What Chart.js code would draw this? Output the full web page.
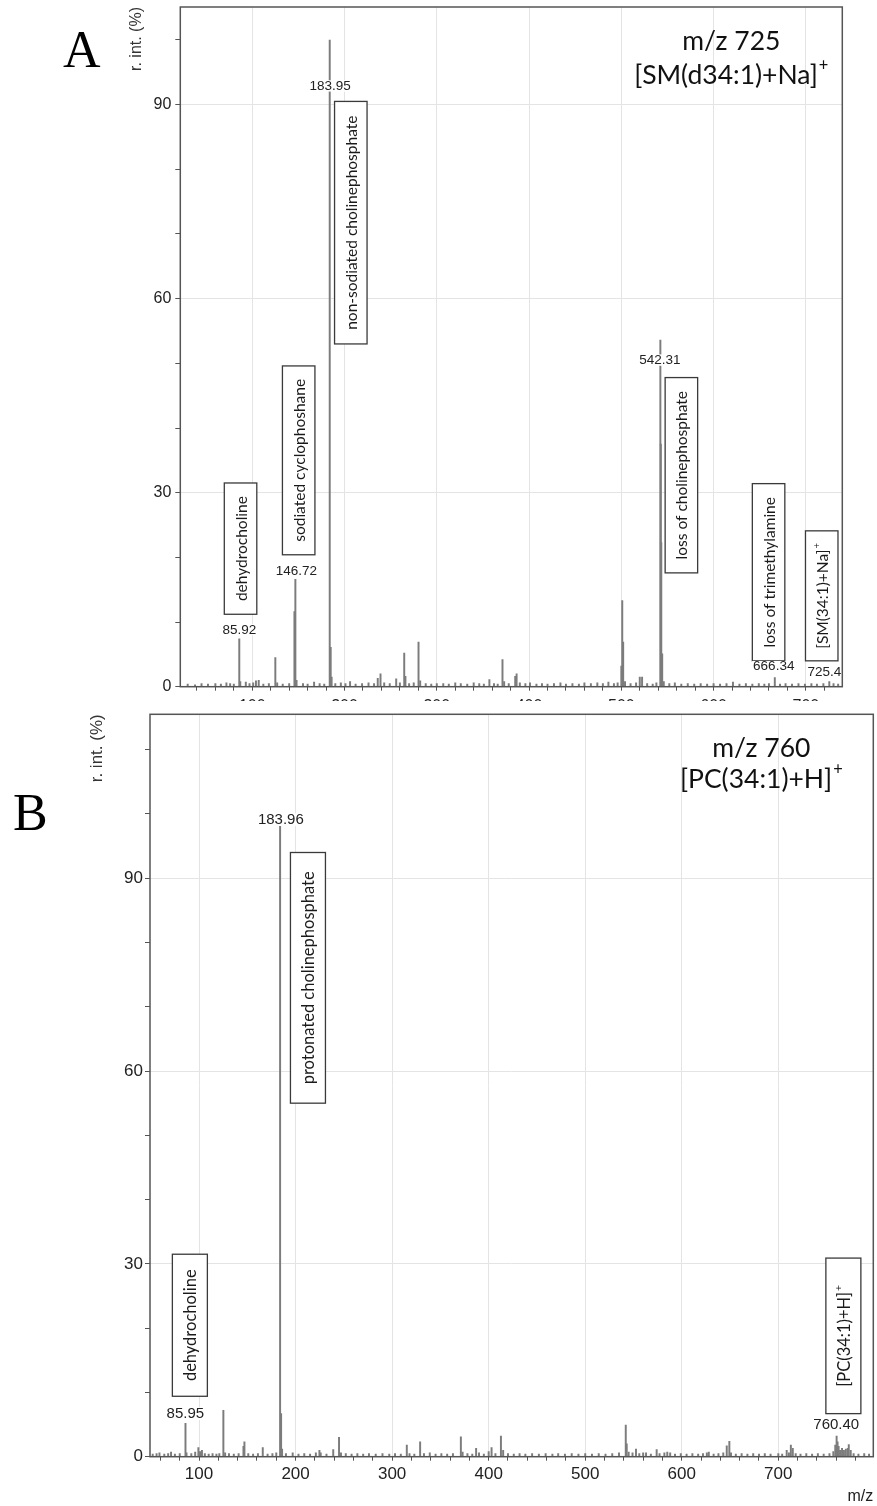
<!DOCTYPE html>
<html>
<head>
<meta charset="utf-8">
<script src="https://cdn.jsdelivr.net/npm/chart.js@4"></script>
<style>
  body { margin: 0; background: #fff; width: 877px; height: 1506px; position: relative; overflow: hidden; }
  #wrapA { position: absolute; left: 0; top: 0; width: 877px; height: 701px; overflow: hidden; }
  #chartB { position: absolute; left: 0; top: 701px; }
</style>
</head>
<body>
<div id="wrapA"><canvas id="chartA" width="877" height="730"></canvas></div>
<canvas id="chartB" width="877" height="805"></canvas>
<script>
// ---- shared tick labels ----
const xMajor = [100, 200, 300, 400, 500, 600, 700];
const yMajor = [0, 30, 60, 90];

// ---- panel A: m/z 725 [SM(d34:1)+Na]+ ----
const mzA = [30, 38, 45, 52, 60, 66, 72, 76, 80, 85.92, 87, 93, 97, 101, 104, 107, 112, 118, 125, 127,
  133, 140, 145.7, 146.72, 148, 155, 160, 167, 173, 178, 183.95, 185, 186, 190, 196, 201, 206, 212, 219, 226,
  232, 236, 239, 243, 249, 256, 260, 264.7, 266, 270, 275, 280.2, 282, 288, 294, 300, 307, 313, 320, 326,
  333, 340, 346, 351, 357, 362, 366, 371.2, 373, 378, 385, 386.5, 390, 396, 401, 408, 414, 420, 427, 434,
  440, 447, 454, 460, 467, 474, 480, 486, 492, 496, 500, 501, 502, 504, 510, 516, 520, 522.5, 528, 534,
  538, 542.31, 542.8, 543.3, 544.3, 546, 552, 558, 565, 572, 579, 586, 593, 600, 607, 614, 621, 628, 635, 642,
  649, 655, 660, 666.34, 672, 678, 685, 692, 699, 706, 712, 719, 725.4, 730, 735];
const intA = [0.4, 0.3, 0.5, 0.4, 0.5, 0.4, 0.6, 0.5, 0.4, 7.4, 0.8, 0.7, 0.5, 0.6, 0.9, 1.0, 0.4, 0.5, 4.5, 0.6,
  0.4, 0.5, 11.6, 16.6, 1.0, 0.5, 0.4, 0.7, 0.5, 0.4, 100, 6.1, 1.5, 0.5, 0.6, 0.5, 0.8, 0.4, 0.5, 0.6,
  0.5, 1.3, 2.0, 0.6, 0.5, 1.2, 0.6, 5.2, 1.6, 0.5, 0.6, 6.9, 0.9, 0.5, 0.4, 0.5, 0.5, 0.4, 0.6, 0.5,
  0.4, 0.6, 0.5, 0.4, 1.1, 0.5, 0.4, 4.2, 0.8, 0.5, 1.6, 2.0, 0.6, 0.5, 0.6, 0.4, 0.5, 0.4, 0.5, 0.6,
  0.4, 0.5, 0.4, 0.6, 0.5, 0.6, 0.5, 0.7, 0.5, 0.6, 3.2, 13.3, 6.9, 0.8, 0.5, 0.6, 1.5, 1.5, 0.5, 0.4,
  0.6, 53.6, 37.5, 22.3, 5.1, 0.8, 0.5, 0.6, 0.4, 0.5, 0.4, 0.5, 0.4, 0.5, 0.4, 0.5, 0.7, 0.4, 0.5, 0.4,
  0.5, 0.4, 0.5, 1.4, 0.4, 0.5, 0.4, 0.5, 0.4, 0.5, 0.4, 0.5, 0.8, 0.5, 0.4];
const peakTextA = ['85.92', '146.72', '183.95', '542.31', '666.34', '725.4'];
const peakMzA = [86.0, 147.7, 184.5, 541.8, 665.2, 720.0];
const peakAtA = [8.8, 17.8, 92.9, 50.5, 3.1, 2.3];
const boxTextA = ['dehydrocholine', 'sodiated cyclophoshane', 'non-sodiated cholinephosphate',
  'loss of cholinephosphate', 'loss of trimethylamine', '[SM(34:1)+Na]'];
const boxSupA = ['', '', '', '', '', '+'];
const boxMzA = [87.3, 150.3, 206.8, 565.1, 659.6, 717.2];
const boxLoA = [11.2, 20.4, 53.0, 17.6, 4.0, 4.0];
const boxHiA = [31.5, 49.6, 90.5, 47.8, 31.4, 24.1];
const ionA = ['m/z 725', '[SM(d34:1)+Na]'];

// ---- panel B: m/z 760 [PC(34:1)+H]+ ----
const mzB = [52, 56, 59, 64, 68, 71, 75, 80, 85.95, 87, 92, 96, 99.3, 101, 103, 106, 110, 114, 118, 121,
  125.2, 127, 131, 136, 141, 146, 147, 151, 156, 161, 166, 171, 176, 180, 183.96, 185, 186, 190, 197, 203,
  209, 215, 221, 224.7, 226, 232, 239, 245, 247, 252, 258, 264, 270, 276, 283, 290, 297, 303, 309, 315.2,
  318, 323, 329, 333, 339, 345, 351, 357, 363, 371.2, 373, 378, 383, 387, 390, 395, 400, 403, 407, 412.7,
  415, 420, 426, 432, 438, 445, 452, 459, 466, 472, 479, 486, 493, 500, 507, 514, 521, 528, 535, 542,
  543, 545, 549, 552.6, 556, 560, 563, 568, 574, 577, 582, 585, 588, 593, 599, 605, 611, 617, 622, 626,
  628, 633, 638, 643, 646.6, 649.3, 651, 656, 662, 668, 674, 680, 686, 692, 700, 704, 708.7, 711, 713, 715,
  718, 723, 729, 735, 741, 747, 753, 757, 759, 760.4, 761.4, 762.5, 764, 766, 768, 770, 772, 773, 775,
  778, 783, 789, 794];
const intB = [0.4, 0.5, 0.6, 0.4, 0.5, 0.7, 0.4, 0.5, 5.2, 0.6, 0.5, 0.7, 1.4, 0.8, 1.0, 0.5, 0.4, 0.5, 0.4, 0.5,
  7.2, 0.6, 0.5, 0.4, 0.5, 1.6, 2.3, 0.5, 0.4, 0.5, 1.4, 0.4, 0.5, 0.6, 98.1, 6.7, 1.2, 0.5, 0.6, 0.4,
  0.5, 0.4, 0.6, 1.0, 0.6, 0.4, 1.1, 3.0, 0.6, 0.5, 0.4, 0.5, 0.4, 0.5, 0.4, 0.5, 0.4, 0.5, 0.4, 1.8,
  0.5, 0.4, 2.3, 0.5, 0.6, 0.4, 0.5, 0.4, 0.5, 3.1, 0.7, 0.5, 0.4, 1.3, 0.6, 0.4, 0.8, 1.4, 0.5, 3.2,
  1.0, 0.5, 0.4, 0.5, 0.4, 0.5, 0.4, 0.5, 0.4, 0.5, 0.4, 0.5, 0.4, 0.5, 0.4, 0.5, 0.4, 0.5, 0.6, 4.9,
  2.0, 0.7, 0.6, 1.2, 0.5, 0.6, 0.6, 0.4, 1.1, 0.5, 0.6, 0.7, 0.6, 0.4, 0.5, 0.4, 0.5, 0.4, 0.5, 0.6,
  0.7, 0.4, 0.5, 0.6, 1.7, 2.4, 0.6, 0.4, 0.5, 0.4, 0.5, 0.4, 0.5, 0.4, 0.5, 0.4, 1.0, 0.6, 1.8, 1.3,
  0.5, 0.4, 0.5, 0.4, 0.5, 0.4, 0.5, 0.8, 1.8, 3.2, 2.3, 1.6, 1.0, 1.3, 1.0, 1.2, 1.3, 1.9, 1.0,
  0.5, 0.4, 0.5, 0.4];
const peakTextB = ['85.95', '183.96', '760.40'];
const peakMzB = [85.8, 184.7, 760.0];
const peakAtB = [6.7, 99.1, 5.0];
const boxTextB = ['dehydrocholine', 'protonated cholinephosphate', '[PC(34:1)+H]'];
const boxSupB = ['', '', '+'];
const boxMzB = [90.5, 212.8, 767.4];
const boxLoB = [9.4, 55.0, 6.7];
const boxHiB = [31.5, 94.0, 30.9];
const ionB = ['m/z 760', '[PC(34:1)+H]'];

const SANS = "'Liberation Sans', Arial, sans-serif";
const CAL = "Lato, 'Open Sans', sans-serif";

// text with optional small raised "+" centred on (0, y) in the current transform
function supText(ctx, main, sup, size, family, y) {
  ctx.font = size + 'px ' + family;
  const w1 = ctx.measureText(main).width;
  ctx.font = (size * 0.62) + 'px ' + family;
  const w2 = sup ? ctx.measureText(sup).width + 1 : 0;
  const x0 = -(w1 + w2) / 2;
  ctx.textAlign = 'left';
  ctx.font = size + 'px ' + family;
  ctx.fillText(main, x0, y);
  if (sup) {
    ctx.font = (size * 0.62) + 'px ' + family;
    ctx.fillText(sup, x0 + w1 + 1, y - size * 0.36);
  }
}

const annotate = {
  id: 'annotate',
  afterDatasetsDraw(chart, args, o) {
    const { ctx, chartArea: a, scales: { x, y } } = chart;
    ctx.save();
    ctx.textBaseline = 'middle';

    // labelled boxes with vertical text
    o.boxText.forEach((t, i) => {
      const cx = x.getPixelForValue(o.boxMz[i]);
      const top = y.getPixelForValue(o.boxHi[i]);
      const bot = y.getPixelForValue(o.boxLo[i]);
      const w = o.boxWidth;
      ctx.fillStyle = '#fff';
      ctx.fillRect(cx - w / 2, top, w, bot - top);
      ctx.strokeStyle = '#3a3a3a';
      ctx.lineWidth = 1.3;
      ctx.strokeRect(cx - w / 2, top, w, bot - top);
      ctx.save();
      ctx.translate(cx, (top + bot) / 2);
      ctx.rotate(-Math.PI / 2);
      ctx.fillStyle = '#1a1a1a';
      supText(ctx, t, o.boxSup[i], o.boxFont, CAL, 1);
      ctx.restore();
    });

    // peak m/z labels
    ctx.font = o.peakFont + 'px ' + SANS;
    ctx.textAlign = 'center';
    o.peakText.forEach((t, i) => {
      const px = x.getPixelForValue(o.peakMz[i]);
      const py = y.getPixelForValue(o.peakAt[i]);
      const w = ctx.measureText(t).width;
      ctx.fillStyle = '#fff';
      ctx.fillRect(px - w / 2 - 1, py - o.peakFont * 0.42, w + 2, o.peakFont * 0.84);
      ctx.fillStyle = '#222';
      ctx.fillText(t, px, py);
    });

    // precursor ion title
    ctx.fillStyle = '#111';
    ctx.save();
    ctx.translate(a.right - o.ionDx, a.top);
    supText(ctx, o.ion[0], '', o.ionFont, CAL, o.ionY[0]);
    supText(ctx, o.ion[1], '+', o.ionFont, CAL, o.ionY[1]);
    ctx.restore();

    // frame
    ctx.strokeStyle = '#555';
    ctx.lineWidth = 1.5;
    ctx.strokeRect(a.left, a.top, a.width, a.height);

    // panel letter
    ctx.fillStyle = '#000';
    ctx.textAlign = 'left';
    ctx.textBaseline = 'alphabetic';
    ctx.font = "52px 'Liberation Serif', 'Times New Roman', serif";
    ctx.fillText(o.letter, o.letterX, o.letterY);
    ctx.restore();
  }
};

function spectrum(id, p) {
  const isMajorX = v => xMajor.includes(Math.round(v));
  const isMajorY = v => yMajor.includes(Math.round(v));
  return new Chart(document.getElementById(id), {
    type: 'bar',
    data: {
      datasets: [{
        data: p.mz.map((m, i) => ({ x: m, y: p.int[i] })),
        backgroundColor: '#7c7c7c',
        borderWidth: 0,
        barThickness: 1.3,
        grouped: false
      }]
    },
    options: {
      responsive: false,
      animation: false,
      layout: { padding: p.pad },
      plugins: {
        legend: { display: false },
        tooltip: { enabled: false },
        annotate: p.ann
      },
      scales: {
        x: {
          type: 'linear',
          min: p.xMin, max: p.xMax, offset: false,
          grid: {
            offset: false,
            color: c => (c.tick && isMajorX(c.tick.value)) ? '#e4e4e4' : 'rgba(0,0,0,0)',
            tickColor: '#555', tickLength: 4
          },
          border: { display: false },
          ticks: {
            stepSize: 20, includeBounds: false, autoSkip: false, maxRotation: 0, padding: p.xPad,
            color: '#222', font: { family: SANS, size: p.tickFont },
            callback: v => isMajorX(v) ? String(Math.round(v)) : ''
          },
          title: {
            display: !!p.xTitle, text: p.xTitle || '', align: 'end', padding: 0,
            color: '#222', font: { family: SANS, size: 16 }
          },
          afterFit: s => { s.height = p.xH; s.paddingLeft = 0; s.paddingRight = 0; }
        },
        y: {
          min: 0, max: p.yMax,
          grid: {
            color: c => (c.tick && isMajorY(c.tick.value) && c.tick.value !== 0) ? '#e4e4e4' : 'rgba(0,0,0,0)',
            tickColor: '#555', tickLength: 5
          },
          border: { display: false },
          ticks: {
            stepSize: 10, includeBounds: false, autoSkip: false, padding: p.yPad,
            color: '#222', font: { family: SANS, size: p.tickFont },
            callback: v => isMajorY(v) ? String(Math.round(v)) : ''
          },
          title: {
            display: true, text: 'r. int. (%)', align: 'end', padding: 0,
            color: '#333', font: { family: SANS, size: p.tickFont }
          },
          afterFit: s => { s.width = p.yW; s.paddingTop = 0; s.paddingBottom = 0; }
        }
      }
    },
    plugins: [annotate]
  });
}

spectrum('chartA', {
  mz: mzA, int: intA, xMin: 22, xMax: 739.5, yMax: 105.1,
  pad: { top: 7, left: 127.4, right: 34.7, bottom: 0 }, yW: 52.9, xH: 43.3, yPad: 4, xPad: 6,
  tickFont: 16,
  ann: {
    boxText: boxTextA, boxSup: boxSupA, boxMz: boxMzA, boxLo: boxLoA, boxHi: boxHiA,
    boxWidth: 32.5, boxFont: 15.5,
    peakText: peakTextA, peakMz: peakMzA, peakAt: peakAtA, peakFont: 13.5,
    ion: ionA, ionDx: 111, ionY: [34, 68], ionFont: 26.5,
    letter: 'A', letterX: 63, letterY: 67
  }
});

spectrum('chartB', {
  mz: mzB, int: intB, xMin: 49.2, xMax: 798.4, yMax: 115.5, xTitle: 'm/z',
  pad: { top: 13.3, left: 87.4, right: 3.7, bottom: 0 }, yW: 62.6, xH: 49.3, yPad: 2, xPad: 3,
  tickFont: 17,
  ann: {
    boxText: boxTextB, boxSup: boxSupB, boxMz: boxMzB, boxLo: boxLoB, boxHi: boxHiB,
    boxWidth: 35, boxFont: 16.5,
    peakText: peakTextB, peakMz: peakMzB, peakAt: peakAtB, peakFont: 15,
    ion: ionB, ionDx: 112, ionY: [34.2, 64.7], ionFont: 26.5,
    letter: 'B', letterX: 13, letterY: 129
  }
});
</script>
</body>
</html>
